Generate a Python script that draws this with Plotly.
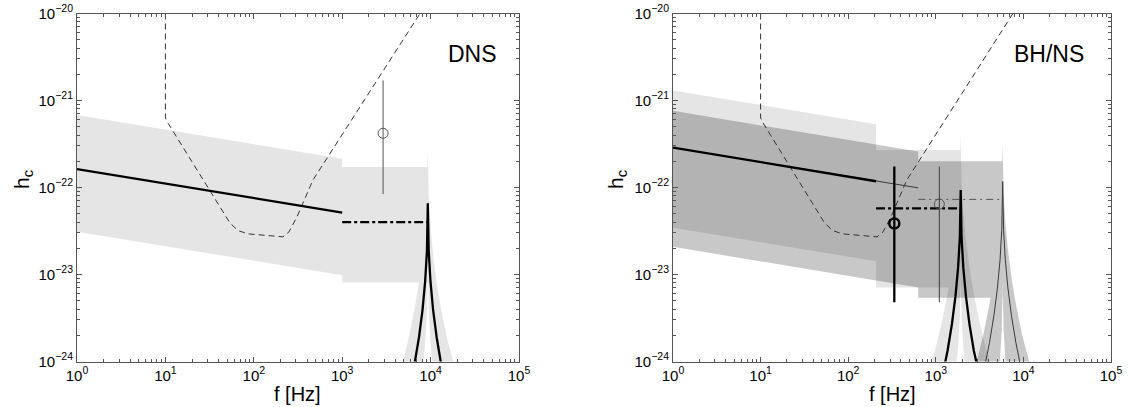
import plotly.graph_objects as go

FONT = "Liberation Sans, Arial, Helvetica, sans-serif"

# ---------------- detector sensitivity (dashed), same in both panels ----------------
SENS_F = [10, 10, 10.7, 39.4, 53.8, 66.3, 86, 214, 250, 308, 467, 7590]
SENS_H = [1.0e-20, 6.3e-22, 5.5e-22, 6.6e-23, 3.9e-23, 3.2e-23, 2.93e-23,
          2.71e-23, 3.09e-23, 4.6e-23, 1.22e-22, 1.0e-20]

# ---------------- DNS panel ----------------
DNS_LINE_F = [1, 1000]
DNS_LINE_H = [1.63e-22, 5.15e-23]
DNS_BAND_HI = [6.8e-22, 2.14e-22]
DNS_BAND_LO = [3.1e-23, 9.8e-24]
DNS_BLOCK_F = [1000, 9300]
DNS_BLOCK_HI = 1.72e-22
DNS_BLOCK_LO = 8.1e-24
DNS_CUT_H = 4.0e-23
DNS_PEAK_F = [3703, 4660, 5600, 6580, 7390, 8100, 8680, 9090, 9300,
              9520, 9965, 10680, 11710, 13140, 15440, 18560, 23360]
DNS_PEAK_H = [8.8e-26, 2.0e-25, 4.2e-25, 9.4e-25, 1.9e-24, 3.9e-24, 8.4e-24, 1.87e-23, 6.6e-23,
              1.87e-23, 8.4e-24, 3.9e-24, 1.9e-24, 9.4e-25, 4.2e-25, 2.0e-25, 8.8e-26]
DNS_PEAK_HI = [3.8e-25, 8.4e-25, 1.8e-24, 4.0e-24, 8.1e-24, 1.68e-23, 3.6e-23, 8.0e-23, 2.8e-22,
               8.0e-23, 3.6e-23, 1.68e-23, 8.1e-24, 4.0e-24, 1.8e-24, 8.4e-25, 3.8e-25]
DNS_PEAK_LO = [1.8e-26, 3.9e-26, 8.4e-26, 1.9e-25, 3.8e-25, 7.9e-25, 1.67e-24, 3.7e-24, 1.32e-23,
               3.7e-24, 1.67e-24, 7.9e-25, 3.8e-25, 1.9e-25, 8.4e-26, 3.9e-26, 1.8e-26]
DNS_POINT_F = 2900
DNS_POINT_H = 4.2e-22
DNS_POINT_ERR = [8.4e-23, 1.7e-21]

# ---------------- BH/NS panel ----------------
# shared low-frequency line, thick model cut at 208 Hz, thin model at 630 Hz
BHNS_THICK_F = [1, 208]
BHNS_THICK_H = [2.88e-22, 1.18e-22]
BHNS_THIN_F = [1, 630]
BHNS_THIN_H = [2.88e-22, 9.9e-23]

# thick model uncertainty (light)
T_BAND_HI = [1.3e-21, 5.35e-22]
T_BAND_LO = [3.44e-23, 1.42e-23]
T_BLOCK_F = [208, 1924]
T_BLOCK_HI = 2.7e-22
T_BLOCK_LO = 7.1e-24
T_CUT_H = 5.75e-23
T_PEAK_F = [766, 964, 1159, 1362, 1528, 1676, 1796, 1880, 1924,
            1969, 2062, 2209, 2422, 2718, 3193, 3839, 4833]
T_PEAK_H = [1.25e-25, 2.8e-25, 5.96e-25, 1.33e-24, 2.7e-24, 5.6e-24, 1.19e-23, 2.65e-23, 9.35e-23,
            2.65e-23, 1.19e-23, 5.6e-24, 2.7e-24, 1.33e-24, 5.96e-25, 2.8e-25, 1.25e-25]
T_PEAK_HI = [5.6e-25, 1.26e-24, 2.69e-24, 5.98e-24, 1.22e-23, 2.52e-23, 5.36e-23, 1.2e-22, 4.2e-22,
             1.2e-22, 5.36e-23, 2.52e-23, 1.22e-23, 5.98e-24, 2.69e-24, 1.26e-24, 5.6e-25]
T_PEAK_LO = [1.5e-26, 3.4e-26, 7.2e-26, 1.6e-25, 3.25e-25, 6.7e-25, 1.43e-24, 3.2e-24, 1.13e-23,
             3.2e-24, 1.43e-24, 6.7e-25, 3.25e-25, 1.6e-25, 7.2e-26, 3.4e-26, 1.5e-26]
T_POINT_F = 336
T_POINT_H = 3.86e-23
T_POINT_ERR = [4.8e-24, 1.74e-22]

# thin model uncertainty (medium)
N_BAND_HI = [7.6e-22, 2.6e-22]
N_BAND_LO = [2.08e-23, 7.1e-24]
N_BLOCK_F = [630, 5800]
N_BLOCK_HI = 2.0e-22
N_BLOCK_LO = 5.4e-24
N_CUT_H = 7.3e-23
N_PEAK_F = [2309, 2907, 3495, 4106, 4607, 5051, 5413, 5668, 5800,
            5935, 6215, 6659, 7302, 8193, 9625, 11570, 14570]
N_PEAK_H = [1.56e-25, 3.5e-25, 7.4e-25, 1.66e-24, 3.37e-24, 6.97e-24, 1.48e-23, 3.3e-23, 1.17e-22,
            3.3e-23, 1.48e-23, 6.97e-24, 3.37e-24, 1.66e-24, 7.4e-25, 3.5e-25, 1.56e-25]
N_PEAK_HI = [4.3e-25, 9.7e-25, 2.06e-24, 4.6e-24, 9.3e-24, 1.93e-23, 4.1e-23, 9.2e-23, 3.24e-22,
             9.2e-23, 4.1e-23, 1.93e-23, 9.3e-24, 4.6e-24, 2.06e-24, 9.7e-25, 4.3e-25]
N_PEAK_LO = [1.1e-26, 2.5e-26, 5.4e-26, 1.2e-25, 2.45e-25, 5.1e-25, 1.08e-24, 2.4e-24, 8.5e-24,
             2.4e-24, 1.08e-24, 5.1e-25, 2.45e-25, 1.2e-25, 5.4e-26, 2.5e-26, 1.1e-26]
N_POINT_F = 1097
N_POINT_H = 6.45e-23
N_POINT_ERR = [4.8e-24, 1.74e-22]

# ---------------- axes ticks ----------------
X_TICKS = [1, 10, 100, 1e3, 1e4, 1e5]
X_TICKTEXT = ["10<sup>%d</sup>" % k for k in range(6)]
X_MINOR = [m * 10 ** d for d in range(5) for m in range(2, 10)]
Y_TICKS = [1e-24, 1e-23, 1e-22, 1e-21, 1e-20]
Y_TICKTEXT = ["10<sup>\u2212%d</sup>" % k for k in (24, 23, 22, 21, 20)]
Y_MINOR = [m * 10.0 ** d for d in range(-24, -20) for m in range(2, 10)]

AX_COLOR = "#555555"
THICK = 2.3
THIN = 1.0
THIN_COLOR = "#3a3a3a"


def band(f_cut, hi, lo, blk_f, blk_hi, blk_lo, pk_f, pk_hi, pk_lo, alpha, xa, ya):
    """Sloped band + flat block + peak envelope, filled as one shaded region."""
    xs = [1, f_cut, f_cut, 1, None,
          blk_f[0], blk_f[1], blk_f[1], blk_f[0], None] + pk_f + pk_f[::-1]
    ys = [hi[0], hi[1], lo[1], lo[0], None,
          blk_hi, blk_hi, blk_lo, blk_lo, None] + pk_hi + pk_lo[::-1]
    return go.Scatter(x=xs, y=ys, mode="lines", fill="toself", fillcolor="black",
                      line=dict(width=0, color="black"), opacity=alpha,
                      hoverinfo="skip", xaxis=xa, yaxis=ya)


def line(x, y, xa, ya, width, color="black", dash="solid"):
    return go.Scatter(x=x, y=y, mode="lines", line=dict(width=width, color=color, dash=dash),
                      hoverinfo="skip", xaxis=xa, yaxis=ya)


def circle(x, y, xa, ya, width, color):
    return go.Scatter(x=[x], y=[y], mode="markers",
                      marker=dict(symbol="circle-open", size=10, color=color,
                                  line=dict(width=width, color=color)),
                      hoverinfo="skip", xaxis=xa, yaxis=ya)


fig = go.Figure()

# ----- DNS -----
fig.add_trace(band(1000, DNS_BAND_HI, DNS_BAND_LO, DNS_BLOCK_F, DNS_BLOCK_HI, DNS_BLOCK_LO,
                   DNS_PEAK_F, DNS_PEAK_HI, DNS_PEAK_LO, 0.102, "x", "y"))
fig.add_trace(line(SENS_F, SENS_H, "x", "y", 1.0, "#333333", "6px,4px"))
fig.add_trace(line(DNS_LINE_F, DNS_LINE_H, "x", "y", THICK))
fig.add_trace(line(DNS_BLOCK_F, [DNS_CUT_H, DNS_CUT_H], "x", "y", THICK, dash="dashdot"))
fig.add_trace(line([DNS_POINT_F, DNS_POINT_F], DNS_POINT_ERR, "x", "y", THIN, "#555555"))
fig.add_trace(circle(DNS_POINT_F, DNS_POINT_H, "x", "y", 1.0, "#555555"))
fig.add_trace(line(DNS_PEAK_F, DNS_PEAK_H, "x", "y", THICK))

# ----- BH/NS -----
fig.add_trace(band(208, T_BAND_HI, T_BAND_LO, T_BLOCK_F, T_BLOCK_HI, T_BLOCK_LO,
                   T_PEAK_F, T_PEAK_HI, T_PEAK_LO, 0.102, "x2", "y2"))
fig.add_trace(band(630, N_BAND_HI, N_BAND_LO, N_BLOCK_F, N_BLOCK_HI, N_BLOCK_LO,
                   N_PEAK_F, N_PEAK_HI, N_PEAK_LO, 0.216, "x2", "y2"))
fig.add_trace(line(SENS_F, SENS_H, "x2", "y2", 1.0, "#333333", "6px,4px"))
fig.add_trace(line(BHNS_THIN_F, BHNS_THIN_H, "x2", "y2", THIN, THIN_COLOR))
fig.add_trace(line(BHNS_THICK_F, BHNS_THICK_H, "x2", "y2", THICK))
fig.add_trace(line(N_BLOCK_F, [N_CUT_H, N_CUT_H], "x2", "y2", THIN, "#555555", "7px,4px,2px,4px"))
fig.add_trace(line(T_BLOCK_F, [T_CUT_H, T_CUT_H], "x2", "y2", THICK, dash="dashdot"))
fig.add_trace(line([N_POINT_F, N_POINT_F], N_POINT_ERR, "x2", "y2", THIN, THIN_COLOR))
fig.add_trace(circle(N_POINT_F, N_POINT_H, "x2", "y2", 1.0, "#555555"))
fig.add_trace(line([T_POINT_F, T_POINT_F], T_POINT_ERR, "x2", "y2", THICK))
fig.add_trace(circle(T_POINT_F, T_POINT_H, "x2", "y2", 2.5, "black"))
fig.add_trace(line(N_PEAK_F, N_PEAK_H, "x2", "y2", THIN, THIN_COLOR))
fig.add_trace(line(T_PEAK_F, T_PEAK_H, "x2", "y2", THICK))


def xaxis(domain, anchor):
    return dict(type="log", domain=domain, anchor=anchor, range=[0, 5], automargin=False,
                tickmode="array", tickvals=X_TICKS, ticktext=X_TICKTEXT,
                ticks="inside", ticklen=5, tickwidth=1, tickcolor=AX_COLOR,
                showline=True, linecolor=AX_COLOR, linewidth=1, mirror="allticks",
                showgrid=False, zeroline=False, tickfont=dict(size=15, color="black"),
                minor=dict(tickmode="array", tickvals=X_MINOR, ticks="inside", ticklen=3,
                           tickwidth=1, tickcolor=AX_COLOR, showgrid=False))


def yaxis(domain, anchor):
    return dict(type="log", domain=domain, anchor=anchor, range=[-24, -20], automargin=False,
                tickmode="array", tickvals=Y_TICKS, ticktext=Y_TICKTEXT,
                ticks="inside", ticklen=5, tickwidth=1, tickcolor=AX_COLOR,
                showline=True, linecolor=AX_COLOR, linewidth=1, mirror="allticks",
                showgrid=False, zeroline=False, tickfont=dict(size=15, color="black"),
                minor=dict(tickmode="array", tickvals=Y_MINOR, ticks="inside", ticklen=3,
                           tickwidth=1, tickcolor=AX_COLOR, showgrid=False))


W, H = 1129, 407
Y_DOM = [1 - 361.5 / H, 1 - 13.5 / H]

fig.update_layout(
    width=W, height=H, margin=dict(l=0, r=0, t=0, b=0, autoexpand=False),
    paper_bgcolor="white", plot_bgcolor="white", showlegend=False,
    font=dict(family=FONT, size=14, color="black"),
    xaxis=xaxis([77 / W, 519 / W], "y"),
    yaxis=yaxis(Y_DOM, "x"),
    xaxis2=xaxis([673 / W, 1111 / W], "y2"),
    yaxis2=yaxis(Y_DOM, "x2"),
)


def label(text, x, y, size, angle=0):
    fig.add_annotation(text=text, x=x / W, y=1 - y / H, xref="paper", yref="paper",
                       showarrow=False, textangle=angle, font=dict(size=size, family=FONT),
                       xanchor="center", yanchor="middle")


label("h<sub>c</sub>", 23, 180, 21, -90)
label("h<sub>c</sub>", 617, 180, 21, -90)
label("f [Hz]", 297, 394, 20)
label("f [Hz]", 892, 394, 20)
label("DNS", 472, 54, 23)
label("BH/NS", 1049, 54, 23)

fig.write_html("out.html")
